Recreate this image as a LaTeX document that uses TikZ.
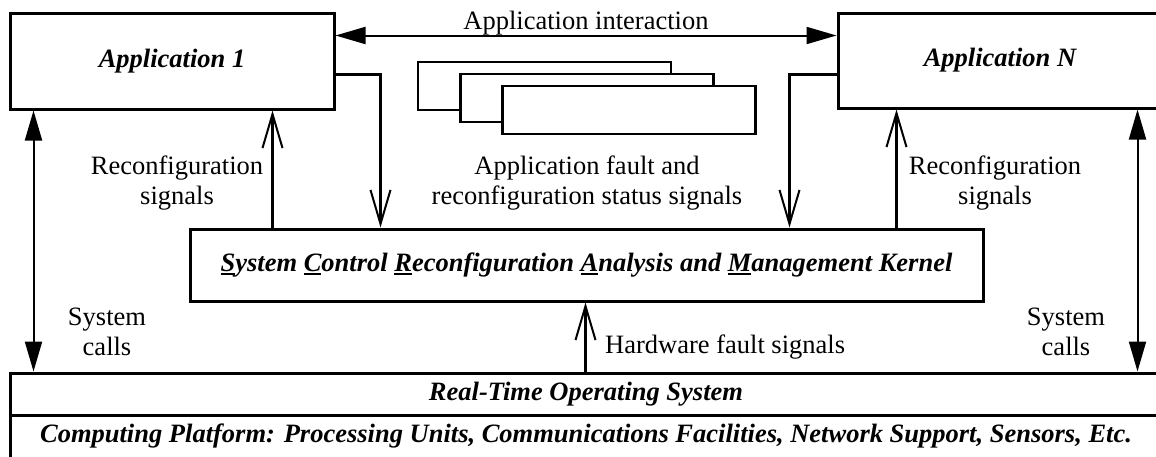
\documentclass[tikz,border=0pt]{standalone}
\usepackage{fontspec}
\setmainfont{Liberation Serif}
\usetikzlibrary{arrows.meta,calc}
\newcommand\myul[1]{\setbox0\hbox{#1}\rlap{\rule[-4pt]{\wd0}{2.2pt}}\box0}
\begin{document}
\begin{tikzpicture}[x=1pt,y=-1pt,
  txt/.style={font=\fontsize{26.5}{30}\selectfont, inner sep=0pt, align=center},
  box/.style={draw, line width=3pt, inner sep=0pt, fill=white,
    font=\fontsize{26.5}{30}\selectfont\bfseries\itshape},
  stackbox/.style={draw, line width=2.5pt, fill=white, minimum width=253pt,
    minimum height=48pt, inner sep=0pt},
  fillarrow/.style={line width=2pt,
    {Triangle[length=30pt,width=17pt]}-{Triangle[length=30pt,width=17pt]}},
  veearrow/.style={line width=3pt,
    -{Straight Barb[length=34pt,width=20pt,line width=2pt]}},
]
\useasboundingbox (0,0) rectangle (1156,456);
\clip (0,0) rectangle (1156,456);

% boxes
\node[box, minimum width=324pt, minimum height=96pt] (app1) at (172,61) {Application 1};
\node[box, minimum width=324pt, minimum height=95pt] (appN) at (1000,60.5) {Application N};
\node[box, minimum width=793pt, minimum height=72pt] (scram) at (586.5,265)
  {\myul{S}ystem \myul{C}ontrol \myul{R}econfiguration \myul{A}nalysis and \myul{M}anagement Kernel};
\node[box, minimum width=1152pt, minimum height=42pt] (rtos) at (586,394) {Real-Time Operating System};
\node[box, minimum width=1152pt, minimum height=50pt, text height=14pt, text depth=10pt] (plat) at (586,440)
  {Computing Platform: Processing Units, Communications Facilities, Network Support, Sensors, Etc.};

% stacked boxes
\node[stackbox] (s1) at (544.5,86) {};
\node[stackbox] (s2) at (587,98) {};
\node[stackbox] (s3) at (629,110) {};

% application interaction
\draw[fillarrow] ($(app1.north east)+(0,24)$) -- ($(appN.north west)+(0,24)$);
\node[txt] (ai) at (586,23) {Application interaction};

% fault / status signals to kernel
\draw[veearrow] ($(app1.east)+(0,13)$) -| ($(scram.north west)+(192,0)$);
\draw[veearrow] ($(appN.west)+(0,13.5)$) -| ($(scram.north west)+(601,0)$);
\node[txt] (fs) at (587,183) {Application fault and\\reconfiguration status signals};

% reconfiguration signals
\coordinate (r1) at ($(scram.north west)+(84,0)$);
\draw[veearrow] (r1) -- (r1 |- app1.south);
\node[txt] (rl) at (177,183) {Reconfiguration\\signals};
\coordinate (r2) at ($(scram.north west)+(708,0)$);
\draw[veearrow] (r2) -- (r2 |- appN.south);
\node[txt] (rr) at (995,183) {Reconfiguration\\signals};

% hardware fault signals
\coordinate (hw) at ($(rtos.north west)+(577,0)$);
\draw[veearrow] (hw) -- (hw |- scram.south);
\node[txt, anchor=west] (hwl) at (605,347) {Hardware fault signals};

% system calls
\coordinate (c1) at ($(app1.south west)+(25,0)$);
\draw[fillarrow] (c1) -- (c1 |- rtos.north);
\node[txt] (scl) at (107,332) {System\\calls};
\coordinate (c2) at ($(appN.south west)+(301,0)$);
\draw[fillarrow] (c2) -- (c2 |- rtos.north);
\node[txt] (scr) at (1066,332) {System\\calls};
\end{tikzpicture}
\end{document}
